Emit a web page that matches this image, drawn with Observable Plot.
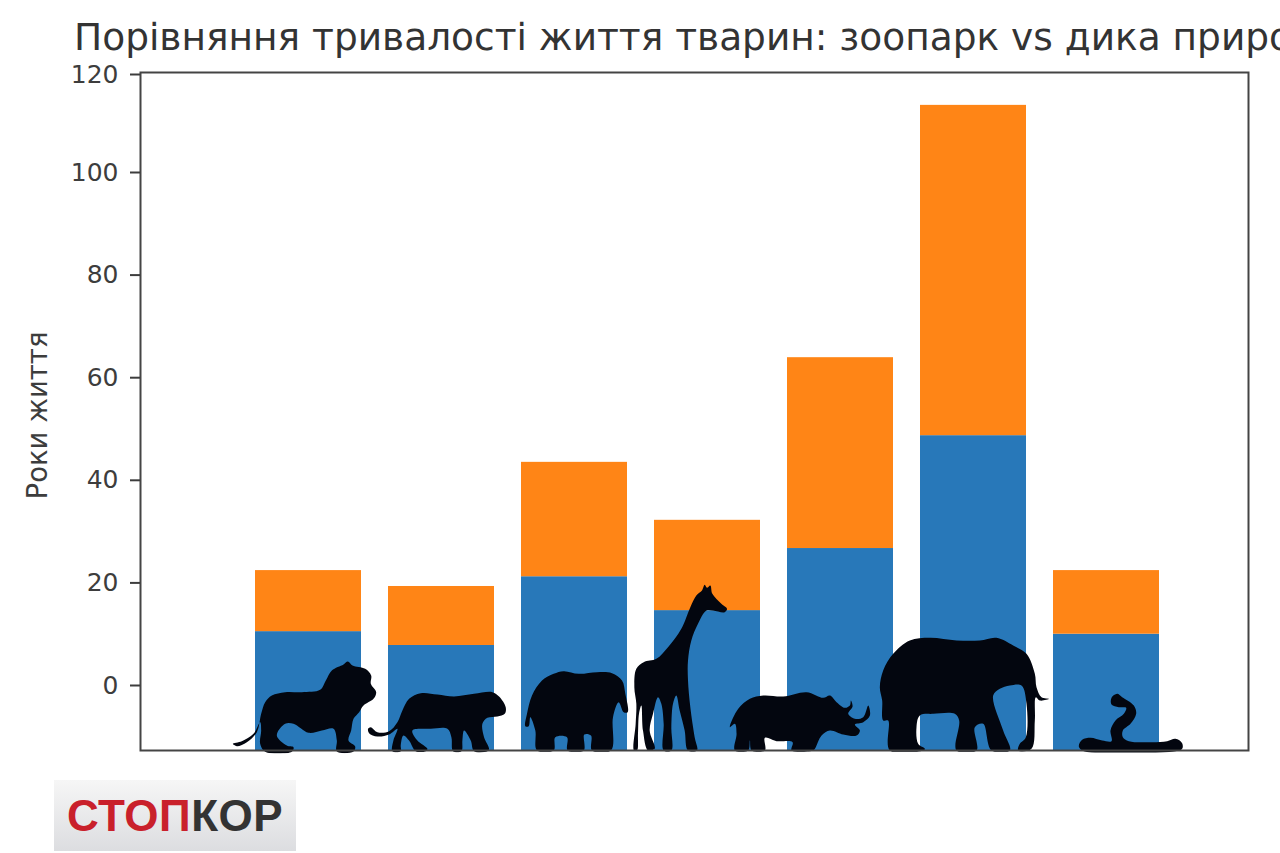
<!DOCTYPE html>
<html lang="uk">
<head>
<meta charset="utf-8">
<script src="https://cdn.jsdelivr.net/npm/d3@7"></script>
<script src="https://cdn.jsdelivr.net/npm/@observablehq/plot@0.6"></script>
<style>
  html, body { margin: 0; padding: 0; background: #fff; width: 1280px; height: 853px; overflow: hidden; }
  #title { height: 60px; box-sizing: border-box; padding: 15px 0 0 74px; font: 37.5px/44px "DejaVu Sans", sans-serif; color: #333; white-space: nowrap; overflow: hidden; }
  #chart { height: 710px; }
  #chart svg { display: block; }
  #logo { margin: 10px 0 0 54px; width: 242px; height: 71px; background: linear-gradient(#f6f6f6, #dcdde0); font: bold 44px/71px "Liberation Sans", sans-serif; text-align: center; letter-spacing: 0.5px; }
  #logo .a { color: #c9202b; } #logo .b { color: #333; }
</style>
</head>
<body>
<div id="title">Порівняння тривалості життя тварин: зоопарк vs дика природа</div>
<div id="chart"></div>
<div id="logo"><span class="a">СТОП</span><span class="b">КОР</span></div>
<script>
const animals = ["Лев", "Тигр", "Бегемот", "Жираф", "Носоріг", "Слон", "Змія"];
const wildYears = [10.5, 7.8, 21.2, 14.6, 26.7, 48.7, 10];
const zooExtraYears = [11.9, 11.5, 22.3, 17.6, 37.2, 65, 12.4];
const yTicks = [0, 20, 40, 60, 80, 100, 120];
const yLabel = "Роки життя";
const axisBottom = -12.7;

const table = animals.map((animal, i) => ({
  animal, wild: wildYears[i], total: wildYears[i] + zooExtraYears[i]
}));

// Silhouette outlines, in their own drawing units (3 units = 1 px)
const silhouettes = [
  {animal: "Лев", dx: -4, base: 510, pts: [[33,490],[45,497],[75,485],[105,455],[118,400],[130,365],[150,345],[190,335],[240,335],[295,328],[312,300],[330,270],[365,252],[378,243],[392,255],[430,265],[448,285],[447,310],[463,335],[455,355],[425,375],[412,395],[395,415],[388,450],[380,480],[400,498],[395,513],[345,513],[345,480],[335,445],[300,450],[260,457],[215,430],[190,430],[165,465],[195,495],[215,500],[210,514],[130,514],[115,490],[118,450],[115,425],[95,460],[60,482]]},
  {animal: "Тигр", dx: -4.6, base: 510, pts: [[442,445],[450,440],[470,455],[505,452],[530,425],[545,390],[565,355],[600,338],[650,342],[700,348],[760,340],[815,335],[835,348],[855,380],[852,400],[830,408],[800,412],[785,430],[790,470],[805,505],[800,512],[760,512],[750,480],[730,450],[725,480],[722,512],[697,512],[692,470],[680,445],[630,445],[575,450],[590,480],[620,505],[615,512],[585,512],[565,480],[548,465],[540,495],[540,512],[515,512],[518,480],[530,445],[505,462],[470,468],[445,458]]},
  {animal: "Бегемот", dx: 2, base: 510, pts: [[915,437],[920,400],[935,345],[965,300],[1000,280],[1030,272],[1075,280],[1130,275],[1175,278],[1205,300],[1215,340],[1222,395],[1210,395],[1195,365],[1178,410],[1172,510],[1115,510],[1112,465],[1092,462],[1090,510],[1042,510],[1040,470],[1005,470],[1000,510],[950,510],[945,450],[930,410],[925,437]]},
  {animal: "Жираф", dx: -27, base: 510, pts: [[1447,30],[1455,13],[1462,22],[1472,15],[1478,40],[1505,70],[1522,85],[1515,95],[1480,90],[1460,90],[1435,130],[1415,180],[1405,240],[1405,300],[1412,380],[1425,470],[1432,510],[1405,510],[1395,450],[1380,390],[1370,345],[1360,370],[1355,440],[1355,510],[1332,510],[1332,430],[1325,370],[1315,350],[1300,400],[1290,450],[1305,505],[1285,510],[1270,450],[1265,375],[1258,400],[1255,460],[1252,510],[1243,510],[1248,430],[1250,370],[1244,320],[1250,265],[1272,245],[1310,235],[1345,200],[1385,145],[1412,80],[1430,45]]},
  {animal: "Носоріг", dx: -40.6, base: 390, pts: [[30,320],[55,265],[90,235],[130,225],[190,228],[260,215],[310,232],[330,225],[350,245],[375,262],[390,255],[393,240],[398,258],[385,280],[405,295],[430,290],[445,255],[450,285],[430,305],[405,312],[420,330],[410,345],[370,342],[330,330],[305,345],[285,385],[280,390],[215,390],[218,365],[170,362],[135,352],[135,390],[95,390],[90,360],[85,390],[45,390],[50,340],[45,310]]},
  {animal: "Слон", dx: -9, base: 390, pts: [[480,200],[490,150],[520,100],[570,60],[630,52],[710,60],[780,60],[830,52],[880,75],[920,100],[945,160],[950,200],[965,230],[988,235],[960,240],[948,230],[945,300],[935,385],[895,390],[900,370],[918,350],[920,250],[905,195],[870,195],[840,205],[820,225],[850,330],[870,390],[815,390],[790,310],[765,320],[770,390],[710,390],[718,300],[705,280],[640,280],[600,285],[590,320],[595,370],[615,385],[610,390],[510,390],[505,300],[490,300],[487,240]]},
  {animal: "Змія", dx: 24, base: 390, pts: [[1080,378],[1090,358],[1115,352],[1150,360],[1178,362],[1175,330],[1190,300],[1215,280],[1222,262],[1200,260],[1178,252],[1178,232],[1195,220],[1210,230],[1245,255],[1252,280],[1235,310],[1212,330],[1212,350],[1230,362],[1300,365],[1345,362],[1370,355],[1390,368],[1390,385],[1370,392],[1095,392]]}
];

function silhouetteMark({animal, dx, base, pts}) {
  const [x0, x1] = d3.extent(pts, p => p[0]);
  const [y0, y1] = d3.extent(pts, p => p[1]);
  const d = d3.line().curve(d3.curveCatmullRomClosed.alpha(0.5))(pts);
  const pad = 4;
  const svg = `<svg xmlns="http://www.w3.org/2000/svg" viewBox="${x0 - pad} ${y0 - pad} ${x1 - x0 + 2 * pad} ${y1 - y0 + 2 * pad}"><path d="${d}" fill="#03060f"/></svg>`;
  const w = (x1 - x0 + 2 * pad) / 3, h = (y1 - y0 + 2 * pad) / 3;
  return Plot.image([animal], {
    x: d => d,
    y: () => axisBottom,
    src: () => "data:image/svg+xml;charset=utf-8," + encodeURIComponent(svg),
    width: w, height: h, dx,
    dy: (y1 + pad - base) / 3 - h / 2
  });
}

const chart = Plot.plot({
  width: 1280,
  height: 710,
  marginLeft: 140,
  marginRight: 32,
  marginTop: 12,
  marginBottom: 20,
  style: {fontFamily: "DejaVu Sans, sans-serif", color: "#3d3d3d", background: "transparent", overflow: "visible"},
  x: {domain: animals, range: [227.6, 1187.6], padding: 0.2, axis: null},
  y: {type: "linear", domain: [axisBottom, 0, 100, 120], range: [690, 625, 112, 14], axis: null},
  marks: [
    Plot.barY(table, {x: "animal", y1: () => axisBottom, y2: "wild", fill: "#2878b9"}),
    Plot.barY(table, {x: "animal", y1: "wild", y2: "total", fill: "#ff8516"}),
    ...silhouettes.map(silhouetteMark),
    Plot.frame({stroke: "#444", strokeWidth: 2}),
    Plot.axisY({
      ticks: yTicks,
      tickFormat: d => String(d),
      tickSize: 10,
      tickPadding: 12,
      strokeWidth: 2,
      fontSize: 25,
      label: null
    }),
    Plot.text([yLabel], {
      frameAnchor: "left",
      textAnchor: "middle",
      dx: -102,
      dy: 4,
      rotate: -90,
      fontSize: 27.5
    })
  ]
});
document.getElementById("chart").append(chart);
</script>
</body>
</html>
